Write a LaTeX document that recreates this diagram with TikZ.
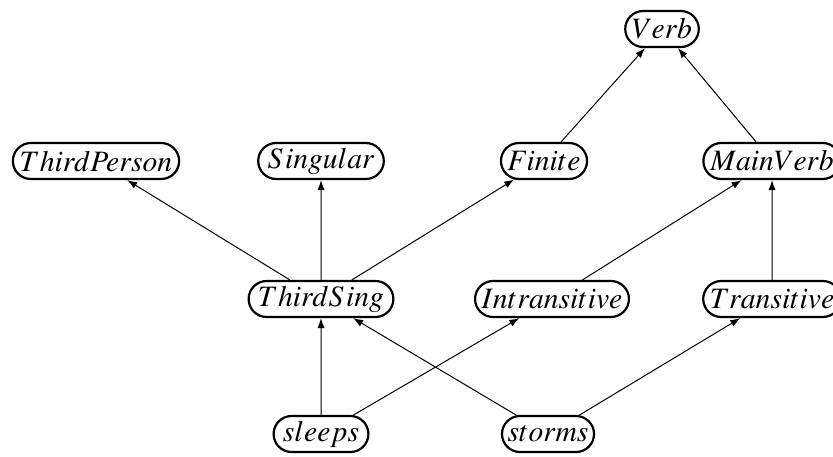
\documentclass[tikz,border=0pt]{standalone}
\usepackage{mathptmx}
\usetikzlibrary{shapes.misc,arrows.meta}

\begin{document}
\begin{tikzpicture}[x=0.5pt,y=0.5pt,
    type/.style={rounded rectangle, draw, line width=1.1pt, minimum height=18pt,
      inner xsep=1.8pt, inner ysep=0pt, font=\fontsize{14.8}{17}\selectfont},
    isa/.style={-{Latex[length=5pt,width=3.6pt]}, line width=0.5pt}]

        \useasboundingbox (0,0) rectangle (833,456);

        % top
        \node[type] (verb) at (662,427) {$V\mkern-0.5mu erb$};

        \node[type] (thirdperson) at (96,295) {$ThirdPerson$};
        \node[type] (singular) at (321,295) {$S\mkern1.5mu ingular$};
        \node[type] (finite) at (544,295) {$Finite$};
        \node[type] (mainverb) at (772,295) {$MainV\mkern-0.5mu erb$};

        \node[type] (thirdsing) at (321,157) {$ThirdS\mkern1.5mu ing$};
        \node[type] (intransitive) at (552,157) {$Intransitive$};
        \node[type] (transitive) at (772,157) {$T\mkern-0.5mu ransitive$};

        % words
        \node[type] (sleeps) at (321,22) {$sleeps$};
        \node[type] (storms) at (548,22) {$storms$};

        \draw[isa] (finite) -- (verb);
        \draw[isa] (mainverb) -- (verb);
        \draw[isa] (thirdsing) -- (thirdperson);
        \draw[isa] (thirdsing) -- (singular);
        \draw[isa] (thirdsing) -- (finite);
        \draw[isa] (intransitive) -- (mainverb);
        \draw[isa] (transitive) -- (mainverb);
        \draw[isa] (sleeps) -- (thirdsing);
        \draw[isa] (sleeps) -- (intransitive);
        \draw[isa] (storms) -- (thirdsing);
        \draw[isa] (storms) -- (transitive);
    \end{tikzpicture}
\end{document}
